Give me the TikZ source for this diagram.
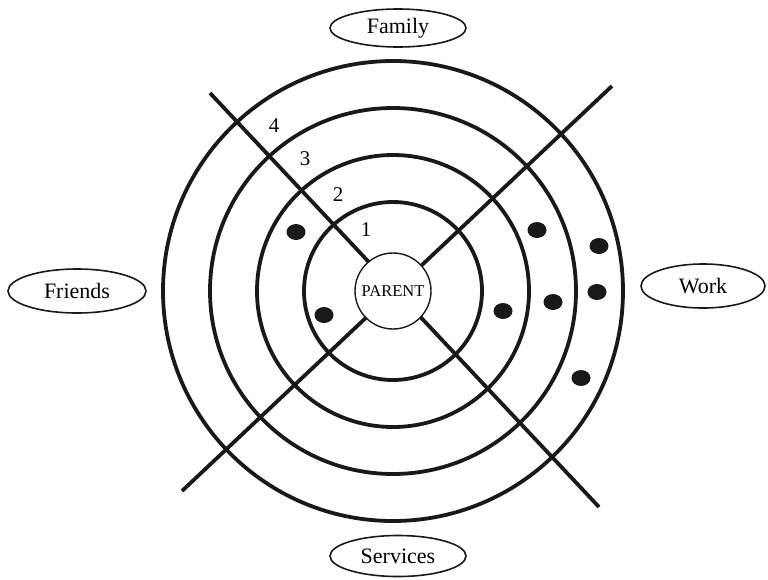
\documentclass[tikz,border=0pt]{standalone}
\usepackage{fontspec}
\setmainfont{Liberation Serif}
\usetikzlibrary{shapes.geometric}
\begin{document}
\begin{tikzpicture}[x=1pt,y=-1pt,
  ring/.style={draw=black!90,line width=3.8pt},
  spoke/.style={draw=black!90,line width=3.8pt},
  bubble/.style={draw=black!90,line width=1.6pt,ellipse,inner sep=0pt,font=\fontsize{22}{24}\selectfont},
  dot/.style={fill=black!90,ellipse,minimum width=19pt,minimum height=16pt,inner sep=0pt},
  num/.style={font=\fontsize{21}{23}\selectfont,inner sep=0pt}]
\useasboundingbox (0,0) rectangle (768,579);
\coordinate (c) at (393,291);
% spokes
\coordinate (ul) at (210,93);
\coordinate (lr) at (599,507);
\coordinate (ll) at (182,491);
\coordinate (ur) at (612,86);
\draw[spoke] (ul) -- (lr);
\draw[spoke] (ll) -- (ur);
% rings
\draw[ring] (c) circle[radius=89];
\draw[ring] (c) circle[radius=136];
\draw[ring] (c) circle[radius=183];
\draw[ring] (c) circle[radius=230];
% parent
\node[circle,draw=black!90,fill=white,line width=1.4pt,minimum size=76pt,inner sep=0pt,font=\fontsize{16.5}{18}\selectfont] (parent) at (c) {PARENT};
% numbers
\node[num] (n4) at (274,126) {4};
\node[num] (n3) at (305,159) {3};
\node[num] (n2) at (338,195) {2};
\node[num] (n1) at (366,230) {1};
% dots
\node[dot] (d1) at (296,232) {};
\node[dot] (d2) at (324,315) {};
\node[dot] (d3) at (537,230) {};
\node[dot] (d4) at (599,246) {};
\node[dot] (d5) at (503,311) {};
\node[dot] (d6) at (553,302) {};
\node[dot] (d7) at (597,292) {};
\node[dot] (d8) at (581,378) {};
% labels
\node[bubble,minimum width=136pt,minimum height=38pt] (family) at (398,28) {Family};
\node[bubble,minimum width=138pt,minimum height=44pt] (friends) at (77,291) {Friends};
\node[bubble,minimum width=124pt,minimum height=44pt] (work) at (703,286) {Work};
\node[bubble,minimum width=136pt,minimum height=41pt] (services) at (398,556) {Services};
\end{tikzpicture}
\end{document}
